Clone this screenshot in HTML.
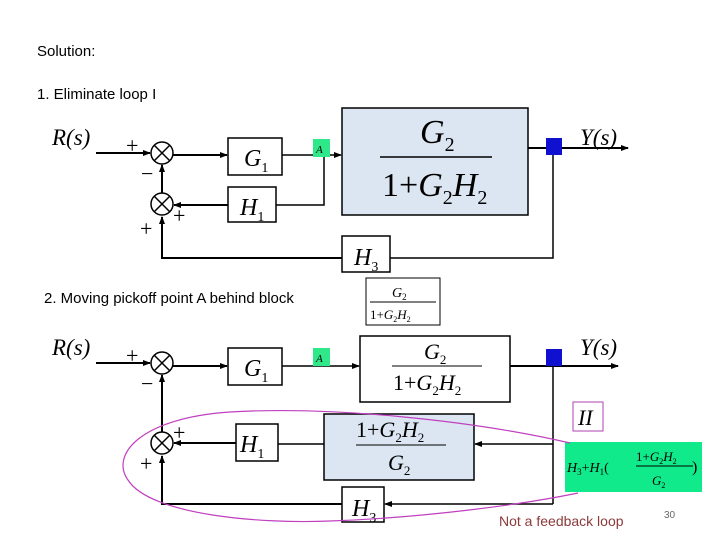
<!DOCTYPE html>
<html><head><meta charset="utf-8"><style>
body{margin:0;background:#fff;width:720px;height:540px;overflow:hidden}
svg{display:block}
.m{font-family:"Liberation Serif",serif;font-style:italic}
.n{font-family:"Liberation Serif",serif}
.s{font-family:"Liberation Sans",sans-serif}
</style></head><body>
<svg width="720" height="540" viewBox="0 0 720 540">
<defs><marker id="ar" markerWidth="8" markerHeight="8" refX="7" refY="4" orient="auto" markerUnits="userSpaceOnUse"><path d="M0,1 L8,4 L0,7z" fill="#000"/></marker></defs>
<text x="37" y="56" class="s" font-size="15">Solution:</text>
<text x="37" y="99" class="s" font-size="15">1. Eliminate loop I</text>

<g stroke="#000" fill="none" stroke-width="1.5">
<text x="52" y="145" class="m" font-size="23" fill="#000" stroke="none">R(s)</text>
<line x1="96" y1="153" x2="150" y2="153" stroke-width="2" marker-end="url(#ar)"/>
<circle cx="162" cy="153" r="11"/><path d="M154,145 L170,161 M170,145 L154,161"/>
<circle cx="162" cy="204" r="11"/><path d="M154,196 L170,212 M170,196 L154,212"/>
<line x1="173" y1="155" x2="227" y2="155" stroke-width="2" marker-end="url(#ar)"/>
<rect x="228" y="138" width="54" height="37"/>
<line x1="282" y1="155" x2="341" y2="155" marker-end="url(#ar)"/>
<rect x="342" y="108" width="186" height="107" fill="#dce6f2"/>
<line x1="528" y1="148" x2="628" y2="148" stroke-width="2" marker-end="url(#ar)"/>
<path d="M324,155 V205 H276"/>
<rect x="228" y="187" width="48" height="35"/>
<line x1="228" y1="205" x2="174" y2="205" stroke-width="2" marker-end="url(#ar)"/>
<line x1="162" y1="193" x2="162" y2="165" stroke-width="2" marker-end="url(#ar)"/>
<path d="M553,148 V258 H390"/>
<rect x="342" y="236" width="48" height="36"/>
<path d="M342,258 H162 V217" stroke-width="2" marker-end="url(#ar)"/>
</g>
<rect x="313" y="139" width="17" height="18" fill="#2ee88a"/>
<text x="316" y="153" class="m" font-size="11">A</text>
<rect x="546" y="138" width="16" height="17" fill="#1010d0"/>
<text x="126" y="153" class="n" font-size="22">+</text>
<text x="141" y="181" class="n" font-size="22">−</text>
<text x="173" y="223" class="n" font-size="22">+</text>
<text x="140" y="236" class="n" font-size="22">+</text>
<text x="244" y="166" class="m" font-size="24">G<tspan font-size="14" font-style="normal" dy="6">1</tspan></text>
<text x="240" y="215" class="m" font-size="24">H<tspan font-size="14" font-style="normal" dy="6">1</tspan></text>
<text x="354" y="265" class="m" font-size="24">H<tspan font-size="14" font-style="normal" dy="6">3</tspan></text>
<text x="420" y="143" class="m" font-size="34">G<tspan font-size="20" font-style="normal" dy="8">2</tspan></text>
<line x1="380" y1="157" x2="492" y2="157" stroke="#000" stroke-width="1.5"/>
<text x="382" y="196" class="n" font-size="34">1+<tspan font-style="italic">G</tspan><tspan font-size="20" dy="8">2</tspan><tspan font-style="italic" dy="-8">H</tspan><tspan font-size="20" dy="8">2</tspan></text>
<text x="580" y="145" class="m" font-size="23">Y(s)</text>

<text x="44" y="303" class="s" font-size="15">2. Moving pickoff point A behind block</text>
<rect x="366" y="278" width="74" height="47" fill="#fff" stroke="#000"/>
<text x="392" y="297" class="m" font-size="14">G<tspan font-size="9" font-style="normal" dy="3">2</tspan></text>
<line x1="370" y1="302" x2="436" y2="302" stroke="#000"/>
<text x="370" y="319" class="n" font-size="13">1+<tspan font-style="italic">G</tspan><tspan font-size="8" dy="3">2</tspan><tspan font-style="italic" dy="-3">H</tspan><tspan font-size="8" dy="3">2</tspan></text>

<g stroke="#000" fill="none" stroke-width="1.5">
<text x="52" y="355" class="m" font-size="23" fill="#000" stroke="none">R(s)</text>
<line x1="96" y1="363" x2="150" y2="363" stroke-width="2" marker-end="url(#ar)"/>
<circle cx="162" cy="363" r="11"/><path d="M154,355 L170,371 M170,355 L154,371"/>
<circle cx="162" cy="443" r="11"/><path d="M154,435 L170,451 M170,435 L154,451"/>
<line x1="173" y1="366" x2="227" y2="366" stroke-width="2" marker-end="url(#ar)"/>
<rect x="228" y="348" width="54" height="37"/>
<line x1="282" y1="366" x2="359" y2="366" marker-end="url(#ar)"/>
<rect x="360" y="336" width="150" height="66"/>
<line x1="510" y1="366" x2="618" y2="366" stroke-width="2" marker-end="url(#ar)"/>
<path d="M553,366 V504"/>
<line x1="553" y1="444" x2="475" y2="444" marker-end="url(#ar)"/>
<rect x="324" y="414" width="150" height="66" fill="#dce6f2"/>
<line x1="324" y1="444" x2="278" y2="444"/>
<rect x="236" y="424" width="42" height="37"/>
<line x1="236" y1="443" x2="174" y2="443" stroke-width="2" marker-end="url(#ar)"/>
<line x1="162" y1="432" x2="162" y2="375" stroke-width="2" marker-end="url(#ar)"/>
<line x1="553" y1="504" x2="385" y2="504" marker-end="url(#ar)"/>
<rect x="342" y="487" width="42" height="35"/>
<path d="M342,504 H162 V456" stroke-width="2" marker-end="url(#ar)"/>
</g>
<rect x="313" y="348" width="17" height="18" fill="#2ee88a"/>
<text x="316" y="362" class="m" font-size="11">A</text>
<rect x="546" y="349" width="16" height="17" fill="#1010d0"/>
<text x="126" y="363" class="n" font-size="22">+</text>
<text x="141" y="391" class="n" font-size="22">−</text>
<text x="173" y="440" class="n" font-size="22">+</text>
<text x="140" y="471" class="n" font-size="22">+</text>
<text x="244" y="376" class="m" font-size="24">G<tspan font-size="14" font-style="normal" dy="6">1</tspan></text>
<text x="240" y="452" class="m" font-size="24">H<tspan font-size="14" font-style="normal" dy="6">1</tspan></text>
<text x="352" y="516" class="m" font-size="24">H<tspan font-size="14" font-style="normal" dy="6">3</tspan></text>
<text x="424" y="359" class="m" font-size="22">G<tspan font-size="13" font-style="normal" dy="5">2</tspan></text>
<line x1="392" y1="366" x2="482" y2="366" stroke="#000"/>
<text x="393" y="390" class="n" font-size="22">1+<tspan font-style="italic">G</tspan><tspan font-size="13" dy="5">2</tspan><tspan font-style="italic" dy="-5">H</tspan><tspan font-size="13" dy="5">2</tspan></text>
<text x="356" y="437" class="n" font-size="22">1+<tspan font-style="italic">G</tspan><tspan font-size="13" dy="5">2</tspan><tspan font-style="italic" dy="-5">H</tspan><tspan font-size="13" dy="5">2</tspan></text>
<line x1="356" y1="445" x2="446" y2="445" stroke="#000"/>
<text x="388" y="470" class="m" font-size="22">G<tspan font-size="13" font-style="normal" dy="5">2</tspan></text>
<text x="580" y="355" class="m" font-size="23">Y(s)</text>

<rect x="573" y="402" width="30" height="29" fill="#fff" stroke="#b040b0"/>
<text x="578" y="425" class="m" font-size="22">II</text>
<rect x="565" y="442" width="137" height="50" fill="#10ea8a"/>
<text x="567" y="472" class="m" font-size="14">H<tspan font-size="9" font-style="normal" dy="3">3</tspan><tspan font-style="normal" dy="-3">+</tspan>H<tspan font-size="9" font-style="normal" dy="3">1</tspan><tspan font-style="normal" dy="-3">(</tspan></text>
<text x="636" y="461" class="n" font-size="13">1+<tspan font-style="italic">G</tspan><tspan font-size="8" dy="3">2</tspan><tspan font-style="italic" dy="-3">H</tspan><tspan font-size="8" dy="3">2</tspan></text>
<line x1="636" y1="466" x2="693" y2="466" stroke="#000"/>
<text x="652" y="485" class="m" font-size="13">G<tspan font-size="8" font-style="normal" dy="3">2</tspan></text>
<text x="692" y="472" class="n" font-size="16">)</text>

<path d="M570,443 C470,420 330,406 230,412 C140,418 110,455 128,480 C150,515 260,524 330,521 C420,518 520,505 578,493" fill="none" stroke="#c040c0" stroke-width="1.2"/>

<text x="499" y="526" class="s" font-size="14" fill="#8b3a3a">Not a feedback loop</text>
<text x="664" y="518" class="s" font-size="10" fill="#666">30</text>
</svg>
</body></html>
